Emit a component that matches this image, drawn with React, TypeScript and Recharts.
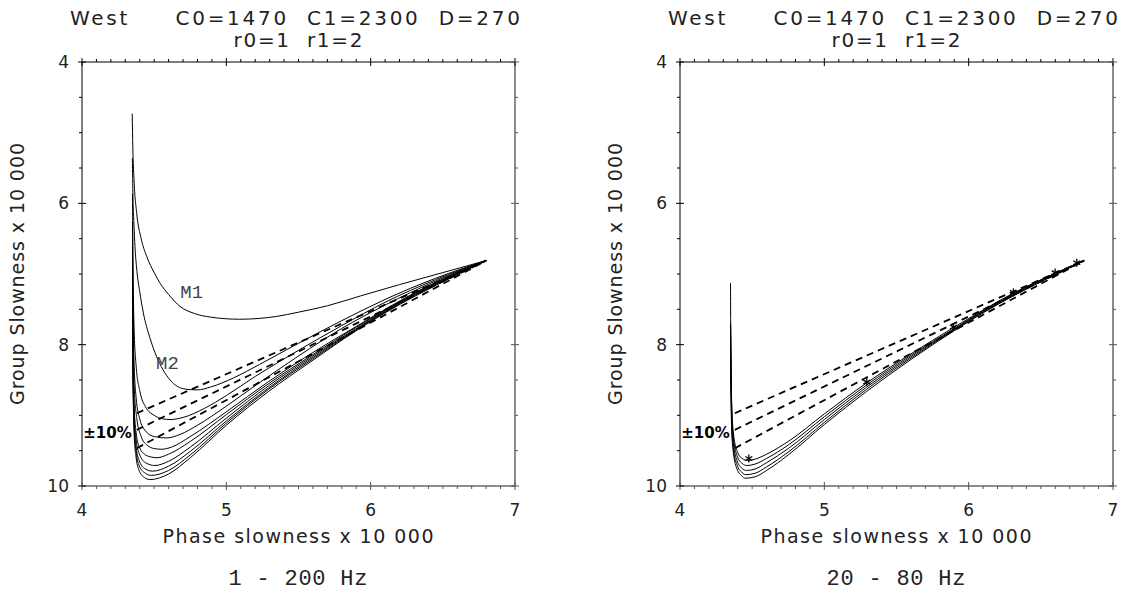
import React from "react";
import { ScatterChart, Scatter, XAxis, YAxis, ReferenceDot } from "recharts";

type Pt = [number, number];

const xTicks = [4, 4.1, 4.2, 4.3, 4.4, 4.5, 4.6, 4.7, 4.8, 4.9, 5, 5.1, 5.2, 5.3, 5.4, 5.5, 5.6, 5.7, 5.8, 5.9, 6, 6.1, 6.2, 6.3, 6.4, 6.5, 6.6, 6.7, 6.8, 6.9, 7];
const xLabels = [4, 5, 6, 7];
const yTicks = [4, 4.5, 5, 5.5, 6, 6.5, 7, 7.5, 8, 8.5, 9, 9.5, 10];
const yLabels = [4, 6, 8, 10];

const titleLine1 = "West     C0=1470  C1=2300  D=270";
const titleLine2 = "r0=1  r1=2";
const xTitle = "Phase slowness x 10 000";
const yTitle = "Group Slowness x 10 000";

// 1 - 200 Hz : modes M1..M10
const m1: Pt[] = [[4.348, 4.73], [4.352, 5.2], [4.36, 5.65], [4.379, 6.14], [4.41, 6.5], [4.448, 6.75], [4.5, 6.98], [4.541, 7.13], [4.6, 7.29], [4.68, 7.46], [4.78, 7.56], [4.89, 7.61], [5.09, 7.64], [5.35, 7.6], [5.5, 7.54], [5.7, 7.45], [5.93, 7.31], [6.2, 7.15], [6.5, 6.98], [6.8, 6.81]];
const m2: Pt[] = [[4.349, 5.36], [4.353, 5.9], [4.36, 6.3], [4.367, 6.61], [4.38, 6.95], [4.4, 7.25], [4.425, 7.55], [4.47, 7.9], [4.517, 8.17], [4.56, 8.35], [4.61, 8.5], [4.66, 8.59], [4.72, 8.63], [4.8, 8.64], [4.89, 8.6], [5.05, 8.47], [5.23, 8.28], [5.5, 7.98], [5.8, 7.66], [6.1, 7.36], [6.45, 7.06], [6.8, 6.81]];
const m3: Pt[] = [[4.35, 5.86], [4.353, 6.8], [4.36, 7.7], [4.375, 8.3], [4.4, 8.65], [4.44, 8.88], [4.5, 9.0], [4.56, 9.05], [4.61, 9.06], [4.7, 9.03], [4.85, 8.9], [5.0, 8.72], [5.2, 8.45], [5.5, 8.08], [5.8, 7.73], [6.1, 7.4], [6.45, 7.08], [6.8, 6.81]];
const m4: Pt[] = [[4.35, 6.26], [4.353, 7.3], [4.36, 8.2], [4.375, 8.75], [4.4, 9.05], [4.44, 9.22], [4.5, 9.3], [4.585, 9.32], [4.68, 9.27], [4.8, 9.14], [5.0, 8.87], [5.2, 8.58], [5.5, 8.16], [5.8, 7.77], [6.1, 7.44], [6.45, 7.1], [6.8, 6.81]];
const m5: Pt[] = [[4.35, 6.6], [4.354, 7.8], [4.362, 8.6], [4.38, 9.05], [4.41, 9.3], [4.45, 9.42], [4.5, 9.47], [4.55, 9.48], [4.62, 9.45], [4.75, 9.3], [5.0, 8.95], [5.294, 8.52], [5.6, 8.11], [5.894, 7.75], [6.1, 7.5], [6.31, 7.26], [6.6, 6.98], [6.8, 6.81]];
const m6: Pt[] = [[4.35, 6.9], [4.353, 8.0], [4.36, 8.8], [4.375, 9.25], [4.4, 9.46], [4.44, 9.56], [4.48, 9.59], [4.52, 9.6], [4.6, 9.55], [4.75, 9.37], [5.0, 8.99], [5.294, 8.55], [5.6, 8.14], [5.894, 7.76], [6.1, 7.51], [6.31, 7.27], [6.6, 6.99], [6.8, 6.81]];
const m7: Pt[] = [[4.35, 7.1], [4.353, 8.1], [4.36, 8.9], [4.375, 9.35], [4.4, 9.56], [4.44, 9.67], [4.505, 9.71], [4.6, 9.65], [4.75, 9.45], [5.0, 9.04], [5.294, 8.58], [5.6, 8.16], [5.894, 7.78], [6.1, 7.52], [6.31, 7.28], [6.6, 6.99], [6.8, 6.81]];
const m8: Pt[] = [[4.35, 7.3], [4.353, 8.2], [4.36, 9.0], [4.375, 9.45], [4.4, 9.66], [4.44, 9.76], [4.49, 9.79], [4.6, 9.72], [4.75, 9.51], [5.0, 9.08], [5.294, 8.61], [5.6, 8.18], [5.894, 7.79], [6.1, 7.53], [6.31, 7.29], [6.6, 7.0], [6.8, 6.81]];
const m9: Pt[] = [[4.35, 7.45], [4.353, 8.3], [4.36, 9.1], [4.375, 9.52], [4.4, 9.73], [4.44, 9.82], [4.48, 9.85], [4.6, 9.78], [4.75, 9.56], [5.0, 9.11], [5.294, 8.63], [5.6, 8.2], [5.894, 7.8], [6.1, 7.54], [6.31, 7.3], [6.6, 7.0], [6.8, 6.81]];
const m10: Pt[] = [[4.35, 7.6], [4.353, 8.4], [4.36, 9.2], [4.375, 9.6], [4.4, 9.8], [4.44, 9.89], [4.47, 9.91], [4.6, 9.83], [4.75, 9.6], [5.0, 9.14], [5.294, 8.66], [5.6, 8.22], [5.894, 7.81], [6.1, 7.55], [6.31, 7.31], [6.6, 7.01], [6.8, 6.81]];

// 20 - 80 Hz
const r1: Pt[] = [[4.35, 7.13], [4.352, 8.0], [4.358, 8.8], [4.37, 9.25], [4.395, 9.5], [4.43, 9.61], [4.47, 9.64], [4.52, 9.62], [4.6, 9.55], [4.75, 9.37], [5.0, 8.98], [5.294, 8.54], [5.6, 8.13], [5.894, 7.76], [6.1, 7.51], [6.31, 7.27], [6.6, 6.99], [6.8, 6.81]];
const r2: Pt[] = [[4.35, 7.7], [4.352, 8.1], [4.358, 8.9], [4.37, 9.32], [4.395, 9.57], [4.43, 9.68], [4.465, 9.71], [4.52, 9.69], [4.6, 9.61], [4.75, 9.42], [5.0, 9.02], [5.294, 8.57], [5.6, 8.15], [5.894, 7.78], [6.1, 7.52], [6.31, 7.28], [6.6, 6.99], [6.8, 6.81]];
const r3: Pt[] = [[4.35, 7.7], [4.352, 8.2], [4.358, 9.0], [4.37, 9.4], [4.395, 9.64], [4.43, 9.75], [4.46, 9.78], [4.52, 9.76], [4.6, 9.67], [4.75, 9.47], [5.0, 9.06], [5.294, 8.6], [5.6, 8.17], [5.894, 7.79], [6.1, 7.53], [6.31, 7.29], [6.6, 7.0], [6.8, 6.81]];
const r4: Pt[] = [[4.35, 7.7], [4.352, 8.3], [4.358, 9.1], [4.37, 9.47], [4.395, 9.7], [4.43, 9.81], [4.455, 9.84], [4.52, 9.82], [4.6, 9.73], [4.75, 9.52], [5.0, 9.1], [5.294, 8.63], [5.6, 8.19], [5.894, 7.8], [6.1, 7.54], [6.31, 7.3], [6.6, 7.0], [6.8, 6.81]];
const r5: Pt[] = [[4.35, 7.7], [4.352, 8.4], [4.358, 9.2], [4.37, 9.53], [4.395, 9.76], [4.43, 9.86], [4.45, 9.89], [4.52, 9.87], [4.6, 9.78], [4.75, 9.56], [5.0, 9.13], [5.294, 8.66], [5.6, 8.21], [5.894, 7.81], [6.1, 7.55], [6.31, 7.31], [6.6, 7.01], [6.8, 6.81]];
const picks: Pt[] = [[4.477, 9.61], [5.294, 8.53], [5.894, 7.75], [6.31, 7.26], [6.599, 6.98], [6.749, 6.84]];

// +-10% straight lines
const band1: Pt[] = [[4.38, 8.97], [6.8, 6.81]];
const band2: Pt[] = [[4.38, 9.205], [6.8, 6.81]];
const band3: Pt[] = [[4.38, 9.465], [6.8, 6.81]];

const SANS = "'DejaVu Sans', sans-serif";
const MONO = "'Liberation Mono', 'DejaVu Sans Mono', monospace";

const toXY = (pts: Pt[]) => pts.map(([x, y]) => ({ x, y }));
const noMarker = () => <g />;

const asterisk = (p: any) => {
  const { cx, cy } = p;
  const r = 4;
  return (
    <g stroke="#000" strokeWidth={1.3}>
      <line x1={cx} y1={cy - r} x2={cx} y2={cy + r} />
      <line x1={cx - r * 0.87} y1={cy - r * 0.5} x2={cx + r * 0.87} y2={cy + r * 0.5} />
      <line x1={cx - r * 0.87} y1={cy + r * 0.5} x2={cx + r * 0.87} y2={cy - r * 0.5} />
    </g>
  );
};

function makeTick(side: "top" | "bottom" | "left" | "right") {
  return (p: any) => {
    const { x, y, payload } = p;
    const v = payload.value;
    const horiz = side === "top" || side === "bottom";
    const labels = horiz ? xLabels : yLabels;
    const major = labels.some((l) => Math.abs(l - v) < 1e-6);
    const out = side === "bottom" || side === "right" ? 1 : -1;
    const lo = major ? -4 : out > 0 ? 0 : -3;
    const hi = major ? 4 : out > 0 ? 3 : 0;
    const col = out > 0 ? "#555" : "#000";
    return (
      <g>
        {horiz ? (
          <line x1={x} x2={x} y1={y + lo} y2={y + hi} stroke={col} />
        ) : (
          <line x1={x + lo} x2={x + hi} y1={y} y2={y} stroke={col} />
        )}
        {major && side === "bottom" && (
          <text x={x} y={y + 30} textAnchor="middle" fontFamily={SANS} fontSize={17} fill="#222">
            {v}
          </text>
        )}
        {major && side === "left" && (
          <text x={x - 13} y={y + 6} textAnchor="end" fontFamily={SANS} fontSize={17} fill="#222">
            {v}
          </text>
        )}
      </g>
    );
  };
}

function Panel({ offset, curves, stars }: { offset: number; curves: Pt[][]; stars: Pt[] }) {
  return (
    <div style={{ position: "absolute", left: offset, top: 0 }}>
      <ScatterChart width={532} height={596} margin={{ top: 52, right: 7, bottom: 100, left: 72 }}>
        <XAxis xAxisId="b" orientation="bottom" type="number" dataKey="x" domain={[4, 7]} ticks={xTicks} interval={0} height={10} tickSize={0} tickMargin={0} tickLine={false} axisLine={{ stroke: "#666", strokeWidth: 1.5 }} tick={makeTick("bottom")} allowDataOverflow />
        <XAxis xAxisId="t" orientation="top" type="number" dataKey="x" domain={[4, 7]} ticks={xTicks} interval={0} height={10} tickSize={0} tickMargin={0} tickLine={false} axisLine={{ stroke: "#000" }} tick={makeTick("top")} allowDataOverflow />
        <YAxis yAxisId="l" orientation="left" type="number" dataKey="y" domain={[4, 10]} reversed ticks={yTicks} interval={0} width={10} tickSize={0} tickMargin={0} tickLine={false} axisLine={{ stroke: "#000" }} tick={makeTick("left")} allowDataOverflow />
        <YAxis yAxisId="r" orientation="right" type="number" dataKey="y" domain={[4, 10]} reversed ticks={yTicks} interval={0} width={10} tickSize={0} tickMargin={0} tickLine={false} axisLine={{ stroke: "#666", strokeWidth: 1.5 }} tick={makeTick("right")} allowDataOverflow />
        {curves.map((c, i) => (
          <Scatter key={"c" + i} xAxisId="b" yAxisId="l" data={toXY(c)} line={{ stroke: "#000", strokeWidth: 1 }} lineJointType="monotoneX" shape={noMarker} isAnimationActive={false} />
        ))}
        {[band1, band2, band3].map((c, i) => (
          <Scatter key={"d" + i} xAxisId="b" yAxisId="l" data={toXY(c)} line={{ stroke: "#000", strokeWidth: 1.8, strokeDasharray: "7 5" }} shape={noMarker} isAnimationActive={false} />
        ))}
        {stars.length > 0 && (
          <Scatter xAxisId="b" yAxisId="l" data={toXY(stars)} shape={asterisk} isAnimationActive={false} />
        )}
        <ReferenceDot xAxisId="b" yAxisId="l" x={4.177} y={9.25} r={0} fill="none" stroke="none" label={{ value: "±10%", position: "center", fontFamily: SANS, fontSize: 15, fontWeight: "bold", fill: "#000" }} />
      </ScatterChart>
    </div>
  );
}

function Titles({ offset, caption, captionWidth }: { offset: number; caption: string; captionWidth: number }) {
  const cx = 298 + offset;
  return (
    <g fill="#222">
      <text x={70 + offset} y={25} fontFamily={SANS} fontSize={20} textLength={450} lengthAdjust="spacing" style={{ whiteSpace: "pre" }}>
        {titleLine1}
      </text>
      <text x={cx} y={47} textAnchor="middle" fontFamily={SANS} fontSize={20} textLength={129} lengthAdjust="spacing" style={{ whiteSpace: "pre" }}>
        {titleLine2}
      </text>
      <text x={cx} y={543} textAnchor="middle" fontFamily={SANS} fontSize={19} textLength={271} lengthAdjust="spacing">
        {xTitle}
      </text>
      <text x={24 + offset} y={274} textAnchor="middle" fontFamily={SANS} fontSize={19} textLength={262} lengthAdjust="spacing" transform={`rotate(-90 ${24 + offset} 274)`}>
        {yTitle}
      </text>
      <text x={cx} y={585} textAnchor="middle" fontFamily={MONO} fontSize={22} textLength={139} lengthAdjust="spacing" style={{ whiteSpace: "pre" }}>
        {caption}
      </text>
    </g>
  );
}

export default function App() {
  return (
    <div style={{ position: "absolute", left: 0, top: 0, width: 1130, height: 596, background: "#fff", overflow: "hidden" }}>
      <Panel offset={0} curves={[m1, m2, m3, m4, m5, m6, m7, m8, m9, m10]} stars={[]} />
      <Panel offset={598} curves={[r1, r2, r3, r4, r5]} stars={picks} />
      <svg width={1130} height={596} style={{ position: "absolute", left: 0, top: 0, pointerEvents: "none" }}>
        <Titles offset={0} caption="1 - 200 Hz" captionWidth={139} />
        <Titles offset={598} caption="20 - 80 Hz" captionWidth={139} />
        <text x={191.7} y={298} textAnchor="middle" fontFamily={MONO} fontSize={19} fill="#444">M1</text>
        <text x={167.5} y={369} textAnchor="middle" fontFamily={MONO} fontSize={19} fill="#444">M2</text>
      </svg>
    </div>
  );
}
